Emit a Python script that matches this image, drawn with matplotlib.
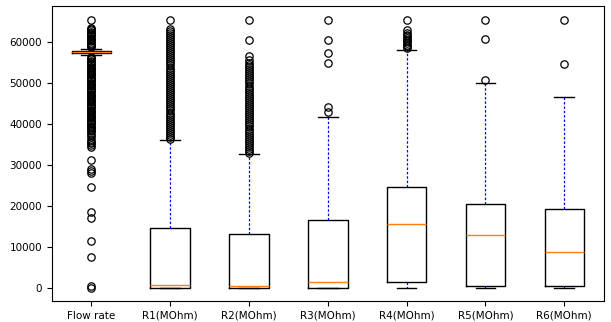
import matplotlib
matplotlib.use("Agg")
import matplotlib.pyplot as plt

labels = ["Flow rate", "R1(MOhm)", "R2(MOhm)", "R3(MOhm)", "R4(MOhm)", "R5(MOhm)", "R6(MOhm)"]
q1 = [57300, 0, 0, 0, 1500, 500, 400]
med = [57650, 700, 300, 1300, 15600, 12900, 8800]
q3 = [57900, 14600, 13200, 16600, 24600, 20500, 19200]
whislo = [56800, 0, 0, 0, 0, 0, 0]
whishi = [58400, 36100, 32700, 41700, 58200, 50000, 46600]

fliers_flow = [0, 300, 7400, 11300, 17000, 18500, 24600, 28000, 28500, 29000, 31200,
               34400, 34800, 35300, 35700, 36200, 36800, 37300, 37800, 38200, 38600,
               39000, 39300, 39600, 39900, 40200, 40500, 40800, 41100, 41400, 41700,
               42000, 42300, 42600, 42900, 43200, 43500, 43800, 44100, 44400, 44700,
               45000, 45300, 45600, 45900, 46200, 46500, 46800, 47100, 47400, 47700,
               48000, 48300, 48600, 48900, 49200, 49500, 49800, 50100, 50400, 50700,
               51000, 51300, 51600, 51900, 52200, 52500, 52800, 53100, 53400, 53700,
               54000, 54300, 54600, 54900, 55200, 55500, 55800, 56100, 56400, 58700,
               59000, 59300, 59600, 59900, 60200, 60500, 60800, 61100, 61400, 61700,
               62000, 62300, 62600, 62900, 63200, 63500, 65535]
fliers_r1 = [36300, 36800, 37300, 37800, 38300, 38800, 39300, 39800, 40300, 40800,
             41300, 41800, 42300, 42800, 43300, 43800, 44300, 44800, 45300, 45800,
             46300, 46800, 47300, 47800, 48300, 48800, 49300, 49800, 50300, 50800,
             51300, 51800, 52300, 52800, 53300, 53800, 54300, 54800, 55300, 55800,
             56300, 56800, 57300, 57800, 58300, 58800, 59300, 59800, 60300, 60800,
             61300, 61800, 62300, 62800, 63300, 65535]
fliers_r2 = [32900, 33400, 33900, 34400, 34900, 35400, 35900, 36400, 36900, 37400,
             37900, 38400, 38900, 39400, 39900, 40400, 40900, 41400, 41900, 42400,
             42900, 43400, 43900, 44400, 44900, 45400, 45900, 46400, 46900, 47400,
             47900, 48400, 48900, 49400, 49900, 50400, 50900, 51400, 51900, 52400,
             52900, 53400, 53900, 54400, 55000, 55700, 56500, 60500, 65535]
fliers_r3 = [43000, 44100, 54900, 57300, 60500, 65535]
fliers_r4 = [58600, 59000, 59400, 59800, 60200, 60600, 61000, 61400, 61800, 62300, 62900, 65535]
fliers_r5 = [50700, 60700, 65535]
fliers_r6 = [54600, 65535]

fliers = [fliers_flow, fliers_r1, fliers_r2, fliers_r3, fliers_r4, fliers_r5, fliers_r6]

stats = []
for i, lab in enumerate(labels):
    stats.append(dict(label=lab, q1=q1[i], med=med[i], q3=q3[i],
                      whislo=whislo[i], whishi=whishi[i], fliers=fliers[i]))

fig = plt.figure(figsize=(6.11, 3.22), dpi=100)
ax = fig.add_axes([0.085, 0.065, 0.903, 0.916])
ax.bxp(stats, whiskerprops=dict(color="blue", linestyle=(0, (2, 1.5)), linewidth=0.9),
       flierprops=dict(marker="o", markerfacecolor="none", markeredgecolor="black",
                       markersize=5.3, markeredgewidth=0.9),
       medianprops=dict(color="tab:orange", linewidth=1.0),
       boxprops=dict(color="black", linewidth=1.0),
       capprops=dict(color="black", linewidth=1.0))
ax.tick_params(labelsize=7.5)
fig.savefig("out.png", dpi=100)
